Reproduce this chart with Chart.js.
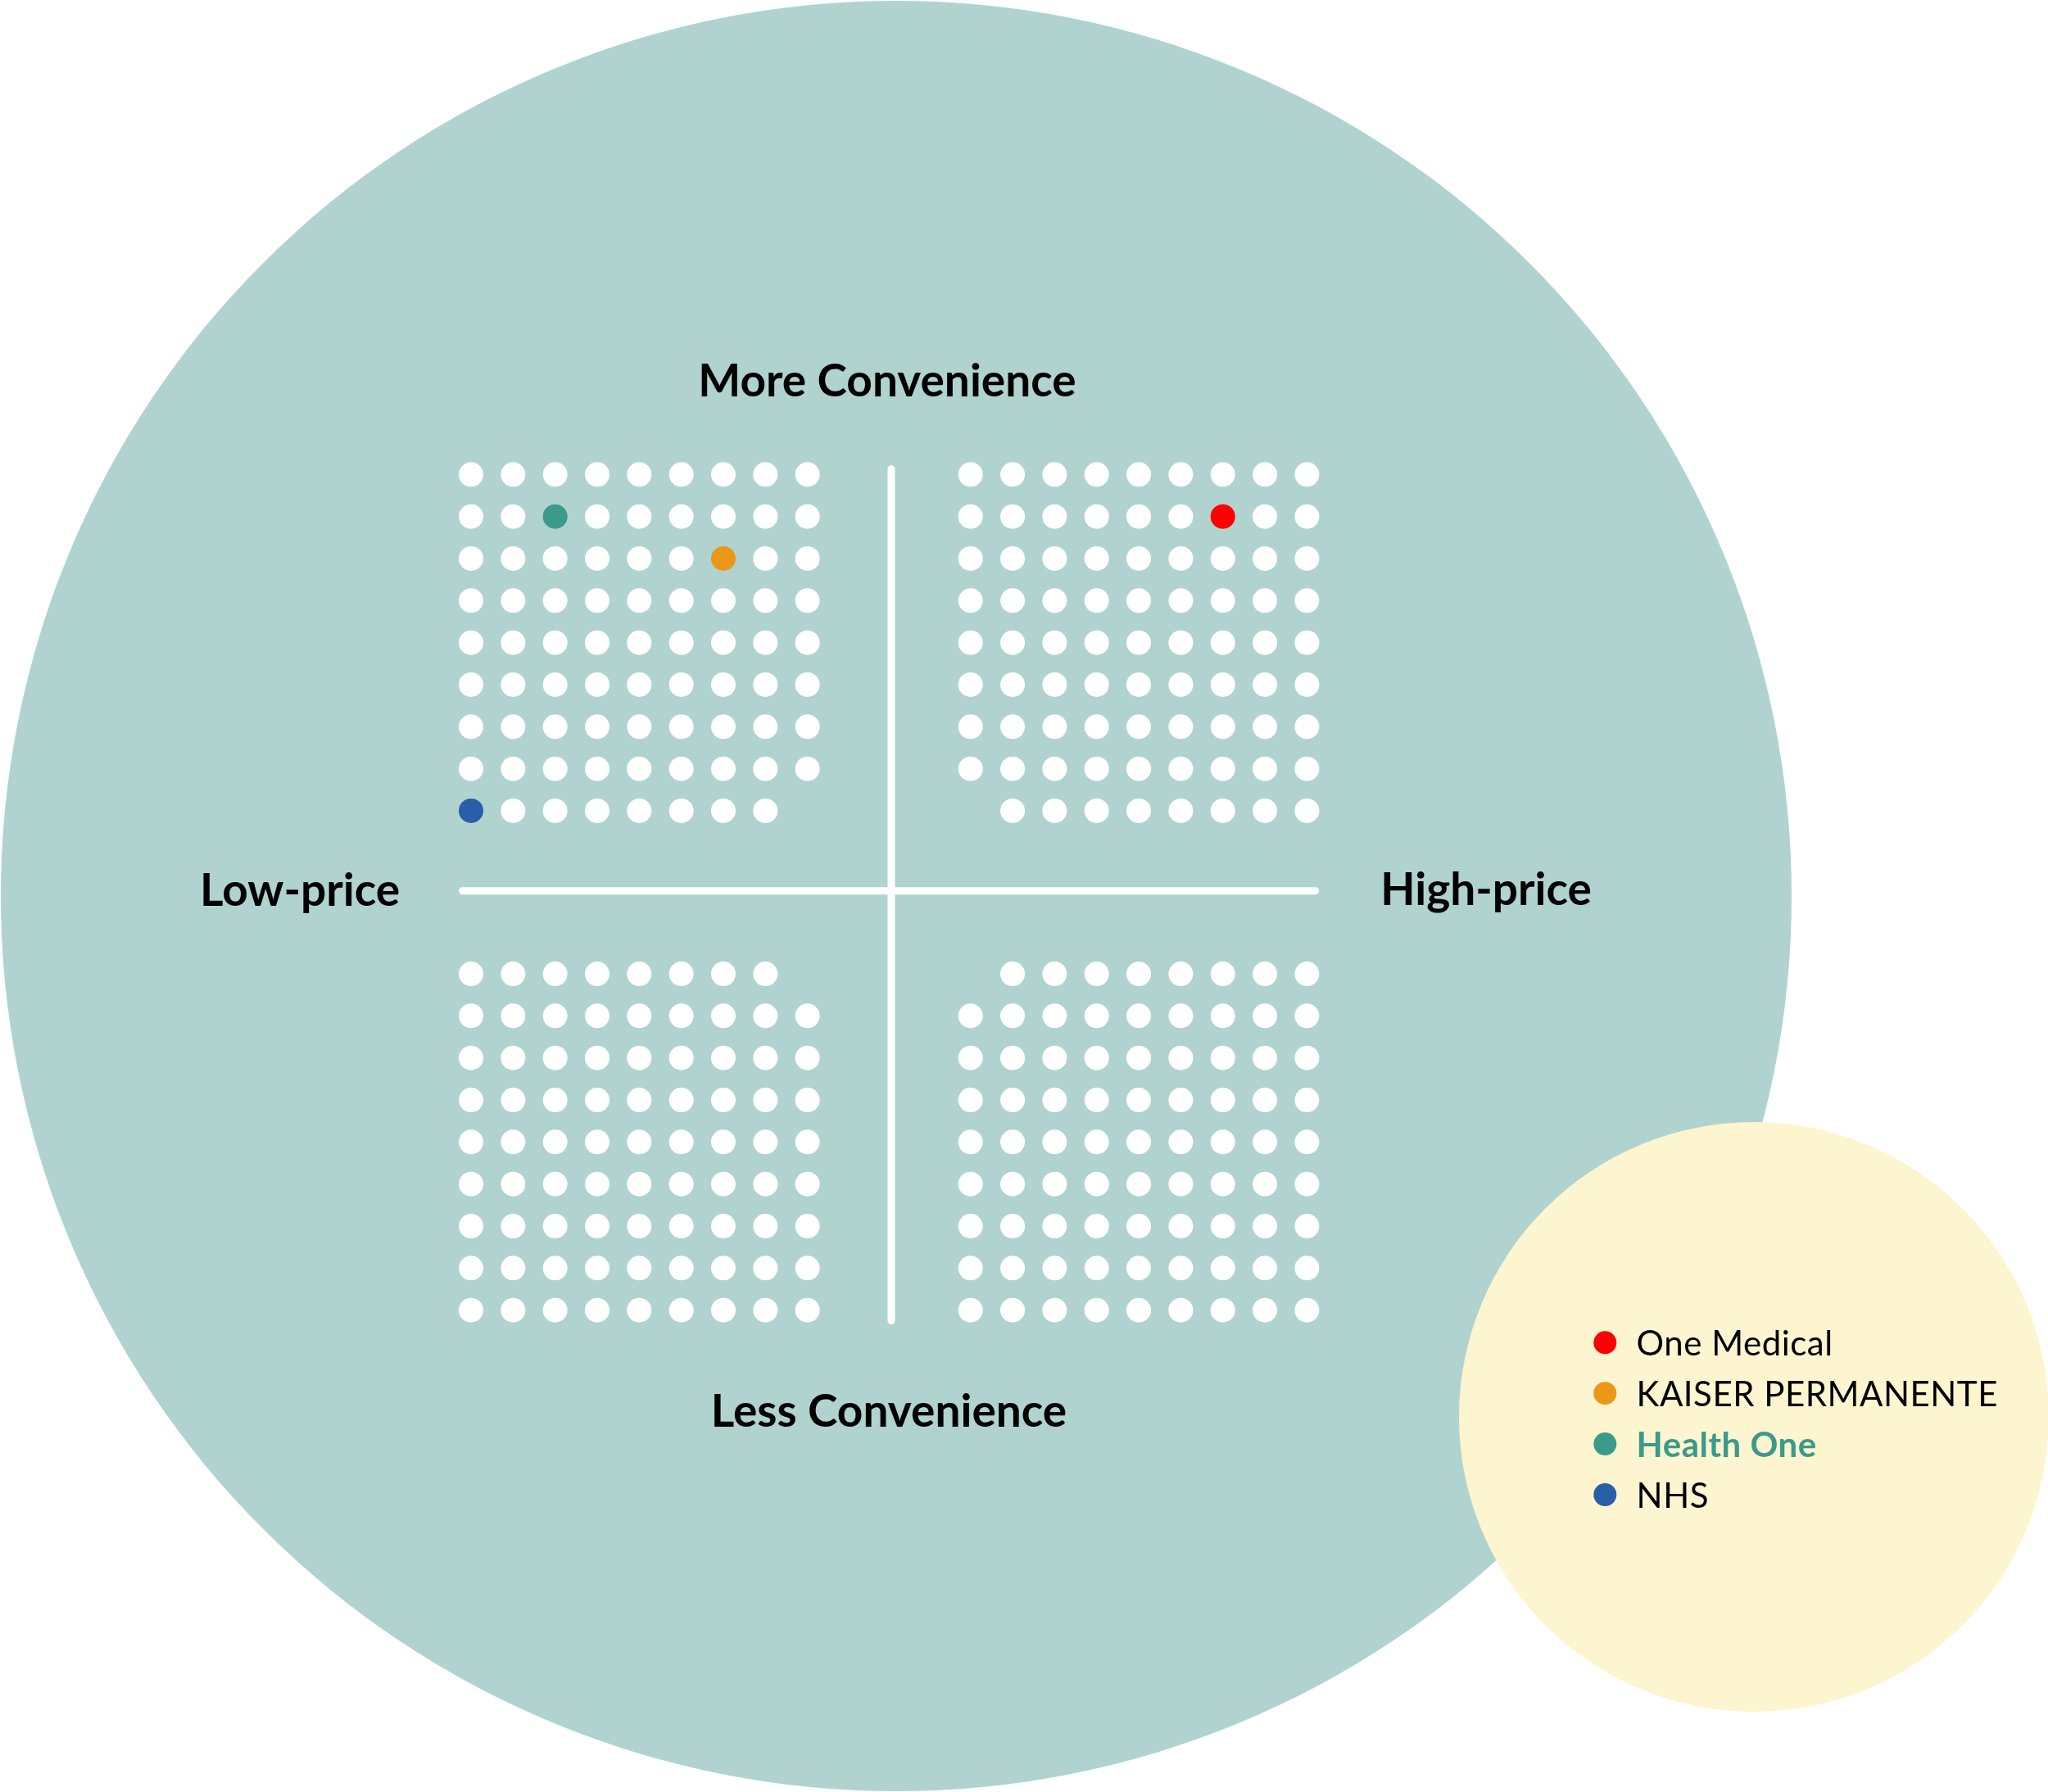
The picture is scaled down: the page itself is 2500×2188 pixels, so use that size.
<!DOCTYPE html>
<html>
<head>
<meta charset="utf-8">
<script src="https://cdn.jsdelivr.net/npm/chart.js@4.4.0/dist/chart.umd.min.js"></script>
<style>
  html, body { margin: 0; padding: 0; background: #fff; }
  canvas { display: block; }
</style>
</head>
<body>
<canvas id="myChart" width="2500" height="2188"></canvas>
<script>
// providers and the grid cell each one sits in
const providers = ['One Medical', 'KAISER PERMANENTE', 'Health One', 'NHS'];
const providerQuadrant = ['high-more', 'low-more', 'low-more', 'low-more'];
const providerCol = [6, 6, 2, 0];
const providerRow = [1, 2, 1, 8];
const featuredProvider = 'Health One';

// four 9x9 quadrants, each one has a corner dot left out
const quadrants = ['low-more', 'high-more', 'low-less', 'high-less'];
const quadrantMissingCol = [8, 0, 8, 0];
const quadrantMissingRow = [8, 8, 0, 0];
const gridSize = 9;

const axisLabels = ['More Convenience', 'Less Convenience', 'Low-price', 'High-price'];

// styling
const providerColors = ['#fe0000', '#eb9819', '#3a9a8b', '#2a5ea8'];
const GAP = 11.878;          // offset (grid units) of right / bottom quadrants
const CROSS_X = 9.994, CROSS_Y = 9.905;
const TEAL_BG = '#b0d3cf', YELLOW_BG = '#fdf5cf';

function cell(quadrant, col, row) {
  return {
    x: col + (quadrant.startsWith('high') ? GAP : 0),
    y: row + (quadrant.endsWith('less') ? GAP : 0)
  };
}

const whiteDots = [];
quadrants.forEach((q, qi) => {
  for (let r = 0; r < gridSize; r++) {
    for (let c = 0; c < gridSize; c++) {
      if (c === quadrantMissingCol[qi] && r === quadrantMissingRow[qi]) continue;
      const taken = providers.some((p, i) => providerQuadrant[i] === q && providerCol[i] === c && providerRow[i] === r);
      if (!taken) whiteDots.push(cell(q, c, r));
    }
  }
});

const datasets = [
  {
    type: 'line', label: 'vertical', order: 10, clip: false,
    data: [{ x: CROSS_X, y: -0.127 }, { x: CROSS_X, y: 20.13 }],
    borderColor: '#ffffff', borderWidth: 9, borderCapStyle: 'round', pointRadius: 0
  },
  {
    type: 'line', label: 'horizontal', order: 10, clip: false,
    data: [{ x: -0.205, y: CROSS_Y }, { x: 20.08, y: CROSS_Y }],
    borderColor: '#ffffff', borderWidth: 9, borderCapStyle: 'round', pointRadius: 0
  },
  {
    label: 'grid', order: 5, clip: false, data: whiteDots,
    backgroundColor: '#ffffff', pointRadius: 15, pointHoverRadius: 15, borderWidth: 0
  }
];
providers.forEach((p, i) => {
  datasets.push({
    label: p, order: 1, clip: false, provider: true,
    data: [cell(providerQuadrant[i], providerCol[i], providerRow[i])],
    backgroundColor: providerColors[i], pointRadius: 15, pointHoverRadius: 15, borderWidth: 0
  });
});

const backdrop = {
  id: 'backdrop',
  beforeDraw(chart) {
    const c = chart.ctx;
    c.save();
    c.fillStyle = '#ffffff';
    c.fillRect(0, 0, chart.width, chart.height);
    c.fillStyle = TEAL_BG;
    c.beginPath(); c.arc(1094, 1094, 1093, 0, Math.PI * 2); c.fill();
    c.fillStyle = YELLOW_BG;
    c.beginPath(); c.arc(2141, 1730, 360, 0, Math.PI * 2); c.fill();
    c.restore();
  }
};

const labelsAndLegend = {
  id: 'labelsAndLegend',
  afterDraw(chart) {
    const c = chart.ctx;
    c.save();
    c.fillStyle = '#000000';
    c.textAlign = 'center';
    c.textBaseline = 'alphabetic';
    c.font = 'bold 55px Lato';
    c.fillText(axisLabels[0], 1083, 484);
    c.fillText(axisLabels[1], 1085, 1742);
    c.fillText(axisLabels[2], 366, 1106);
    c.fillText(axisLabels[3], 1814, 1105);

    // legend from the provider datasets
    c.textAlign = 'left';
    c.letterSpacing = '0.5px';
    let y = 1639.3;
    chart.data.datasets.filter(d => d.provider).forEach(d => {
      c.fillStyle = d.backgroundColor;
      c.beginPath(); c.arc(1959.3, y, 14, 0, Math.PI * 2); c.fill();
      const featured = d.label === featuredProvider;
      c.font = (featured ? 'bold ' : '') + '42px Lato';
      c.fillStyle = featured ? d.backgroundColor : '#000000';
      c.fillText(d.label, 1997.6, y + 15.5);
      y += 61.9;
    });
    c.restore();
  }
};

new Chart(document.getElementById('myChart'), {
  type: 'scatter',
  data: { datasets: datasets },
  options: {
    responsive: false,
    animation: false,
    devicePixelRatio: 1,
    layout: { padding: { left: 575, top: 579.3, right: 2500 - 1595.4, bottom: 2188 - 1599.7 } },
    scales: {
      x: { type: 'linear', display: false, min: 0, max: 8 + GAP },
      y: { type: 'linear', display: false, min: 0, max: 8 + GAP, reverse: true }
    },
    plugins: { legend: { display: false }, tooltip: { enabled: false } },
    events: []
  },
  plugins: [backdrop, labelsAndLegend]
});
</script>
</body>
</html>
